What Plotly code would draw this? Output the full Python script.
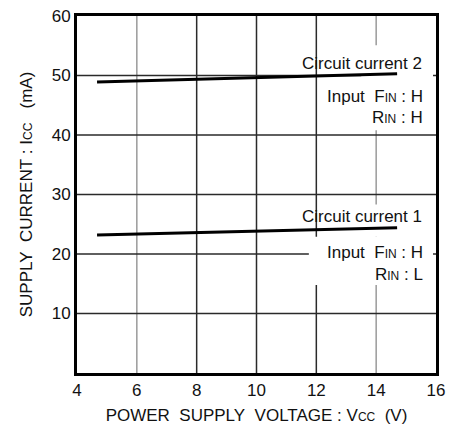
import plotly.graph_objects as go

voltage = [4.67, 14.7]
current_1 = [23.2, 24.4]
current_2 = [48.9, 50.3]
x_ticks = [4, 6, 8, 10, 12, 14, 16]
y_ticks = [10, 20, 30, 40, 50, 60]
x_grid_dark = [8, 10, 12]
x_grid_light = [6, 14]
y_grid_over = [10, 30, 40, 50]

FONT = "Liberation Sans, Arial, Helvetica, sans-serif"
sub = lambda s: f"<span style='font-size:12px'>{s}</span>"
sp = "&nbsp;"

fig = go.Figure()
fig.add_trace(go.Scatter(x=voltage, y=current_2, mode="lines",
                         line=dict(color="black", width=3), showlegend=False))
fig.add_trace(go.Scatter(x=voltage, y=current_1, mode="lines",
                         line=dict(color="black", width=3), showlegend=False))

DARK = "#2a2a2a"
LIGHT = "#9a9a9a"
shapes = []
for v in x_grid_dark:
    shapes.append(dict(type="line", xref="x", yref="paper", x0=v, x1=v, y0=0, y1=1,
                       line=dict(color=DARK, width=1.5), layer="below"))
for v in x_grid_light:
    shapes.append(dict(type="line", xref="x", yref="paper", x0=v, x1=v, y0=0, y1=1,
                       line=dict(color=LIGHT, width=1.5), layer="below"))
shapes.append(dict(type="line", xref="paper", yref="y", x0=0, x1=1, y0=20, y1=20,
                   line=dict(color=DARK, width=1.5), layer="below"))
# white label backgrounds
for (x0, x1, y0, y1) in [(13.5, 15.9, 40.8, 55.1), (11.75, 15.9, 14.8, 22.9), (13.5, 15.9, 22.9, 28.3)]:
    shapes.append(dict(type="rect", xref="x", yref="y", x0=x0, x1=x1, y0=y0, y1=y1,
                       fillcolor="white", line=dict(width=0), layer="below"))
for v in y_grid_over:
    shapes.append(dict(type="line", xref="paper", yref="y", x0=0, x1=1, y0=v, y1=v,
                       line=dict(color=DARK, width=1.5), layer="below"))

ann_font = dict(family=FONT, size=17, color="#111111")
annotations = [
    dict(x=15.6, y=52.1, text="Circuit current 2"),
    dict(x=15.63, y=46.4, text="Input" + sp * 2 + "F" + sub("IN") + " : H"),
    dict(x=15.63, y=42.9, text="R" + sub("IN") + " : H"),
    dict(x=15.6, y=26.3, text="Circuit current 1"),
    dict(x=15.63, y=20.2, text="Input" + sp * 2 + "F" + sub("IN") + " : H"),
    dict(x=15.63, y=16.5, text="R" + sub("IN") + " : L"),
]
for a in annotations:
    a.update(xref="x", yref="y", showarrow=False, font=ann_font,
             xanchor="right", yanchor="middle")

fig.update_layout(
    width=462, height=429,
    margin=dict(l=77, r=26, t=16, b=56),
    plot_bgcolor="white", paper_bgcolor="white",
    font=dict(family=FONT, size=17, color="#111111"),
    shapes=shapes, annotations=annotations,
    xaxis=dict(range=[4, 16], tickvals=x_ticks, showgrid=False, zeroline=False,
               showline=True, linecolor="black", linewidth=3, mirror=True,
               ticks="", ticklen=0, automargin=False,
               title=dict(text="POWER" + sp * 2 + "SUPPLY" + sp * 2 + "VOLTAGE" + sp + ":" + sp
                               + "V" + sub("CC") + sp * 2 + "(V)",
                          font=dict(size=17), standoff=10)),
    yaxis=dict(range=[0, 60], tickvals=y_ticks, showgrid=False, zeroline=False,
               showline=True, linecolor="black", linewidth=3, mirror=True,
               ticks="", ticklen=0, automargin=False,
               title=dict(text="SUPPLY" + sp * 2 + "CURRENT" + sp + ":" + sp + "I" + sub("CC")
                               + sp * 3 + "(mA)",
                          font=dict(size=17), standoff=15)),
)
fig.write_html("out.html", config={"displayModeBar": False},
               post_script="document.body.style.margin='0';document.body.style.overflow='hidden';")
